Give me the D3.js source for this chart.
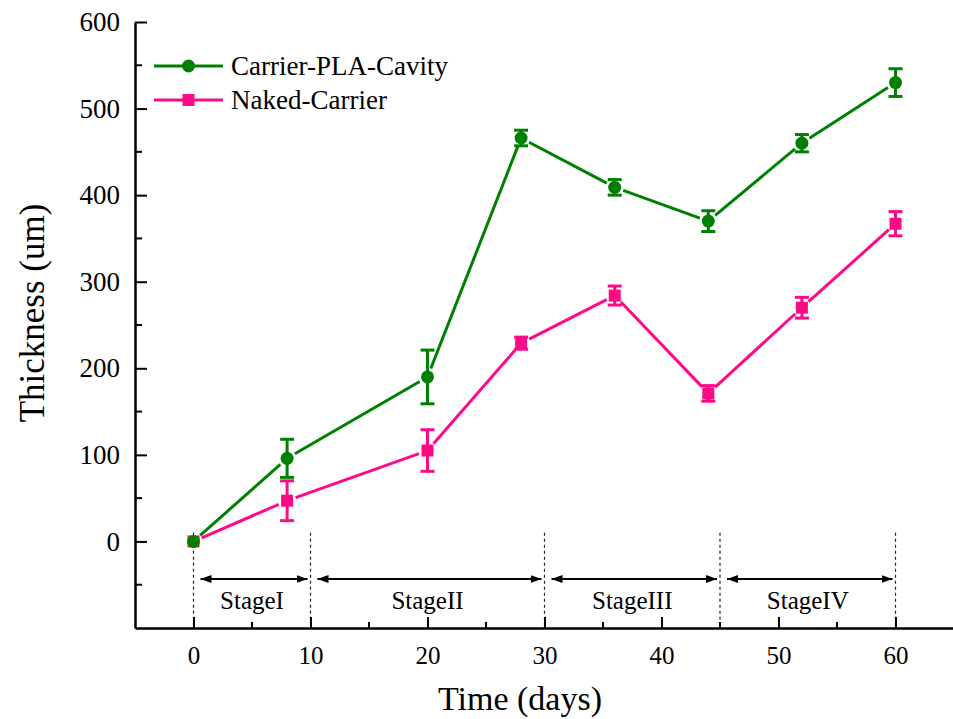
<!DOCTYPE html>
<html>
<head>
<meta charset="utf-8">
<script src="https://cdn.jsdelivr.net/npm/d3@7"></script>
<style>
    body { margin: 0; background: #fff; }
    svg text { font-family: 'Liberation Serif', 'Times New Roman', serif; fill: #000; }
    .axis path, .axis line { stroke: #000; }
    .axis .domain { stroke-width: 2.5; }
    .axis .tick line { stroke-width: 2; }
</style>
</head>
<body>
<div id="chart"></div>
<script>
// days sampled
var days = [0, 8, 20, 28, 36, 44, 52, 60];

// Carrier-PLA-Cavity thickness (um) and error
var cavityMean = [0, 96, 190, 466, 409, 370, 460, 530];
var cavityErr = [0, 22, 31, 9, 9, 12, 10, 16];

// Naked-Carrier thickness (um) and error
var nakedMean = [0, 47, 105, 229, 284, 171, 270, 367];
var nakedErr = [0, 23, 24, 7, 11, 9, 12, 14];

// stages
var stageNames = ['StageI', 'StageII', 'StageIII', 'StageIV'];
var stageBounds = [0, 10, 30, 45, 60];

var xTicks = [0, 10, 20, 30, 40, 50, 60];
var xMinor = [5, 15, 25, 35, 45, 55];
var yTicks = [0, 100, 200, 300, 400, 500, 600];
var yMinor = [-50, 50, 150, 250, 350, 450, 550];

var green = '#008000',
    pink = '#ff0a86';

var W = 953, H = 719;
var margin = { top: 22, left: 135, bottom: 91, right: 0 };

var svg = d3.select('#chart').append('svg')
    .attr('width', W)
    .attr('height', H);

var x = d3.scaleLinear()
    .domain([-5, 65])
    .range([margin.left, margin.left + 70 * 11.7]);

var y = d3.scaleLinear()
    .domain([-100, 600])
    .range([H - margin.bottom, margin.top]);

// arrow head
svg.append('defs').selectAll('marker')
    .data(['start', 'end'])
    .enter()
    .append('marker')
    .attr('id', d => 'arr-' + d)
    .attr('viewBox', '0 -4 11 8')
    .attr('refX', d => d === 'end' ? 11 : 0)
    .attr('refY', 0)
    .attr('markerUnits', 'userSpaceOnUse')
    .attr('markerWidth', 11)
    .attr('markerHeight', 8)
    .attr('orient', 'auto')
    .append('path')
    .attr('d', d => d === 'end' ? 'M0,-4L11,0L0,4Z' : 'M11,-4L0,0L11,4Z')
    .attr('fill', '#000');

////////////////////////////////
// STAGE ANNOTATIONS
svg.selectAll('.stage-line')
    .data(stageBounds)
    .enter()
    .append('line')
    .attr('class', 'stage-line')
    .attr('x1', d => x(d))
    .attr('x2', d => x(d))
    .attr('y1', y(10))
    .attr('y2', y(-100))
    .attr('stroke', '#222')
    .attr('stroke-width', 1.2)
    .attr('stroke-dasharray', '3,3');

var stages = stageNames.map((name, i) => ({ name: name, from: stageBounds[i], to: stageBounds[i + 1] }));

svg.selectAll('.stage-arrow')
    .data(stages)
    .enter()
    .append('line')
    .attr('class', 'stage-arrow')
    .attr('x1', d => x(d.from) + 7)
    .attr('x2', d => x(d.to) - 3)
    .attr('y1', 579)
    .attr('y2', 579)
    .attr('stroke', '#000')
    .attr('stroke-width', 1.8)
    .attr('marker-start', 'url(#arr-start)')
    .attr('marker-end', 'url(#arr-end)');

svg.selectAll('.stage-name')
    .data(stages)
    .enter()
    .append('text')
    .attr('class', 'stage-name')
    .attr('x', d => x((d.from + d.to) / 2))
    .attr('y', 609)
    .attr('text-anchor', 'middle')
    .style('font-size', '25px')
    .text(d => d.name);

////////////////////////////////
// AXES
var xAxis = d3.axisBottom(x)
    .tickValues(xTicks)
    .tickSizeInner(-11)
    .tickSizeOuter(0)
    .tickPadding(18)
    .tickFormat(d3.format('d'));

var gx = svg.append('g')
    .attr('class', 'axis')
    .attr('transform', 'translate(0,' + y(-100) + ')')
    .call(xAxis);
gx.selectAll('text').style('font-size', '25px');

gx.selectAll('.minor')
    .data(xMinor)
    .enter()
    .append('line')
    .attr('class', 'minor')
    .attr('x1', d => x(d))
    .attr('x2', d => x(d))
    .attr('y1', 0)
    .attr('y2', -6)
    .attr('stroke', '#000')
    .attr('stroke-width', 2);

var yAxis = d3.axisLeft(y)
    .tickValues(yTicks)
    .tickSizeInner(-12)
    .tickSizeOuter(0)
    .tickPadding(15)
    .tickFormat(d3.format('d'));

var gy = svg.append('g')
    .attr('class', 'axis')
    .attr('transform', 'translate(' + margin.left + ',0)')
    .call(yAxis);
gy.selectAll('text').style('font-size', '27px');

gy.selectAll('.minor')
    .data(yMinor)
    .enter()
    .append('line')
    .attr('class', 'minor')
    .attr('x1', 0)
    .attr('x2', 7)
    .attr('y1', d => y(d))
    .attr('y2', d => y(d))
    .attr('stroke', '#000')
    .attr('stroke-width', 2);

svg.append('text')
    .attr('x', 520)
    .attr('y', 710)
    .attr('text-anchor', 'middle')
    .style('font-size', '34px')
    .text('Time (days)');

svg.append('text')
    .attr('transform', 'translate(44,313) rotate(-90)')
    .attr('text-anchor', 'middle')
    .style('font-size', '35px')
    .text('Thickness (um)');

////////////////////////////////
// SERIES
var series = [
    { name: 'Carrier-PLA-Cavity', color: green, shape: 'circle', mean: cavityMean, err: cavityErr },
    { name: 'Naked-Carrier', color: pink, shape: 'square', mean: nakedMean, err: nakedErr }
];

function drawMarker(g, shape, color) {
    if (shape === 'circle') {
        g.append('circle').attr('r', 6.5).attr('fill', color);
    } else {
        g.append('rect').attr('x', -6).attr('y', -6).attr('width', 12).attr('height', 12).attr('fill', color);
    }
}

// draw the pink series first so green sits on top at day 0
series.slice().reverse().forEach(s => {
    var pts = days.map((d, i) => ({ x: x(d), y: y(s.mean[i]), hi: y(s.mean[i] + s.err[i]), lo: y(s.mean[i] - s.err[i]), e: s.err[i] }));
    var g = svg.append('g');

    // line segments stop short of the markers
    var gap = 9;
    d3.pairs(pts).forEach(p => {
        var a = p[0], b = p[1];
        var dx = b.x - a.x, dy = b.y - a.y, len = Math.sqrt(dx * dx + dy * dy);
        var ux = dx / len, uy = dy / len;
        g.append('line')
            .attr('x1', a.x + ux * gap)
            .attr('y1', a.y + uy * gap)
            .attr('x2', b.x - ux * gap)
            .attr('y2', b.y - uy * gap)
            .attr('stroke', s.color)
            .attr('stroke-width', 3);
    });

    // error bars
    var eb = g.selectAll('.err')
        .data(pts.filter(p => p.e > 0))
        .enter()
        .append('g');
    eb.append('line')
        .attr('x1', d => d.x).attr('x2', d => d.x)
        .attr('y1', d => d.hi).attr('y2', d => d.lo)
        .attr('stroke', s.color).attr('stroke-width', 3);
    eb.append('line')
        .attr('x1', d => d.x - 7).attr('x2', d => d.x + 7)
        .attr('y1', d => d.hi).attr('y2', d => d.hi)
        .attr('stroke', s.color).attr('stroke-width', 3);
    eb.append('line')
        .attr('x1', d => d.x - 7).attr('x2', d => d.x + 7)
        .attr('y1', d => d.lo).attr('y2', d => d.lo)
        .attr('stroke', s.color).attr('stroke-width', 3);

    pts.forEach(p => {
        var m = g.append('g').attr('transform', 'translate(' + p.x + ',' + p.y + ')');
        drawMarker(m, s.shape, s.color);
    });
});

////////////////////////////////
// LEGEND
var legend = svg.selectAll('.legend')
    .data(series)
    .enter()
    .append('g')
    .attr('class', 'legend')
    .attr('transform', (d, i) => 'translate(154,' + (66 + i 
* 34) + ')');

legend.append('line')
    .attr('x1', 0).attr('x2', 69)
    .attr('stroke', d => d.color)
    .attr('stroke-width', 3);

legend.each(function (d) {
    var m = d3.select(this).append('g').attr('transform', 'translate(34.5,0)');
    drawMarker(m, d.shape, d.color);
});

legend.append('text')
    .attr('x', 77)
    .attr('dy', '0.35em')
    .style('font-size', '27px')
    .text(d => d.name);
</script>
</body>
</html>
